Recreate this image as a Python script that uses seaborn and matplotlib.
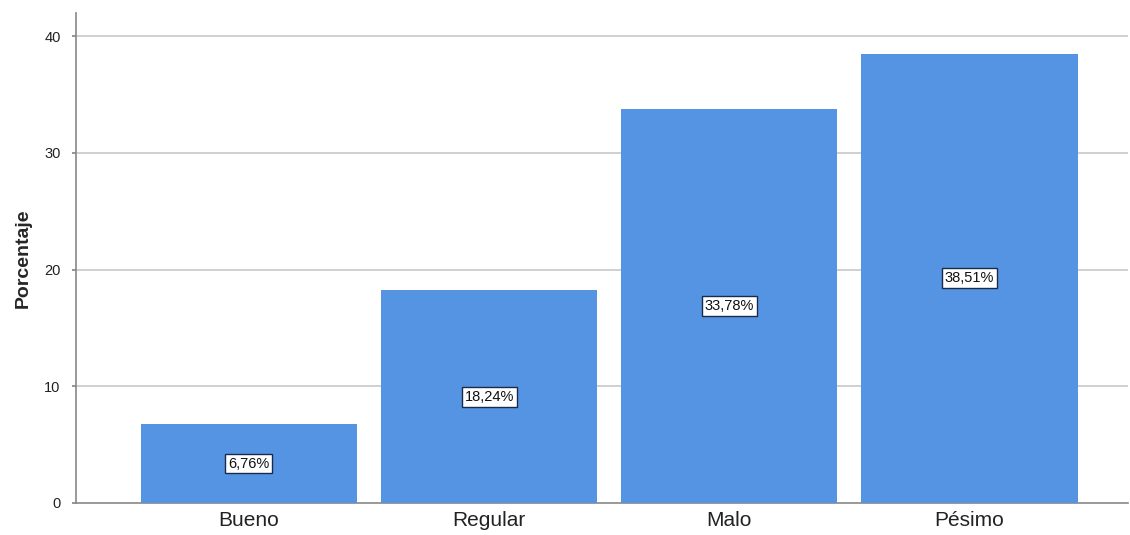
import matplotlib
matplotlib.use("Agg")
import matplotlib.pyplot as plt
import seaborn as sns
import pandas as pd

categories = ["Bueno", "Regular", "Malo", "Pésimo"]
percentages = [6.76, 18.24, 33.78, 38.51]
value_labels = ["6,76%", "18,24%", "33,78%", "38,51%"]
y_ticks = [0, 10, 20, 30, 40]

sns.set_theme(style="white")
plt.rcParams['font.family'] = ['Liberation Sans', 'DejaVu Sans']

df = pd.DataFrame({"Categoria": categories, "Porcentaje": percentages})

fig = plt.figure(figsize=(11.3, 5.35), dpi=100)
ax = fig.add_axes([76/1130, 1 - 503/535, (1128 - 76)/1130, (503 - 13)/535])

sns.barplot(data=df, x="Categoria", y="Porcentaje", color="#5594E2",
            saturation=1, width=0.9, ax=ax, zorder=3, linewidth=0,
            edgecolor="none")

ax.set_xlim(-0.72, 3.66)
ax.set_ylim(0, 42)
ax.set_yticks(y_ticks)
ax.set_yticklabels([str(t) for t in y_ticks], fontsize=10.5, color="#222222")
ax.tick_params(axis="x", labelsize=15, colors="#222222", length=0, pad=6)
ax.tick_params(axis="y", length=3, color="#888888", pad=8, left=True)
for t in y_ticks[1:]:
    ax.axhline(t, color="#c8c8c8", linewidth=1.2, zorder=1)

ax.set_xlabel("")
ax.set_ylabel("Porcentaje", fontsize=14, fontweight="bold", labelpad=9)

for s in ["top", "right"]:
    ax.spines[s].set_visible(False)
for s in ["left", "bottom"]:
    ax.spines[s].set_color("#888888")
    ax.spines[s].set_linewidth(1.2)

for i, (v, lab) in enumerate(zip(percentages, value_labels)):
    ax.text(i, v / 2, lab, ha="center", va="center", fontsize=10.5, color="#111111",
            zorder=5,
            bbox=dict(boxstyle="square,pad=0.2", facecolor="white",
                      edgecolor="#1a2a4a", linewidth=1))

fig.savefig("out.png", dpi=100, facecolor="white")
